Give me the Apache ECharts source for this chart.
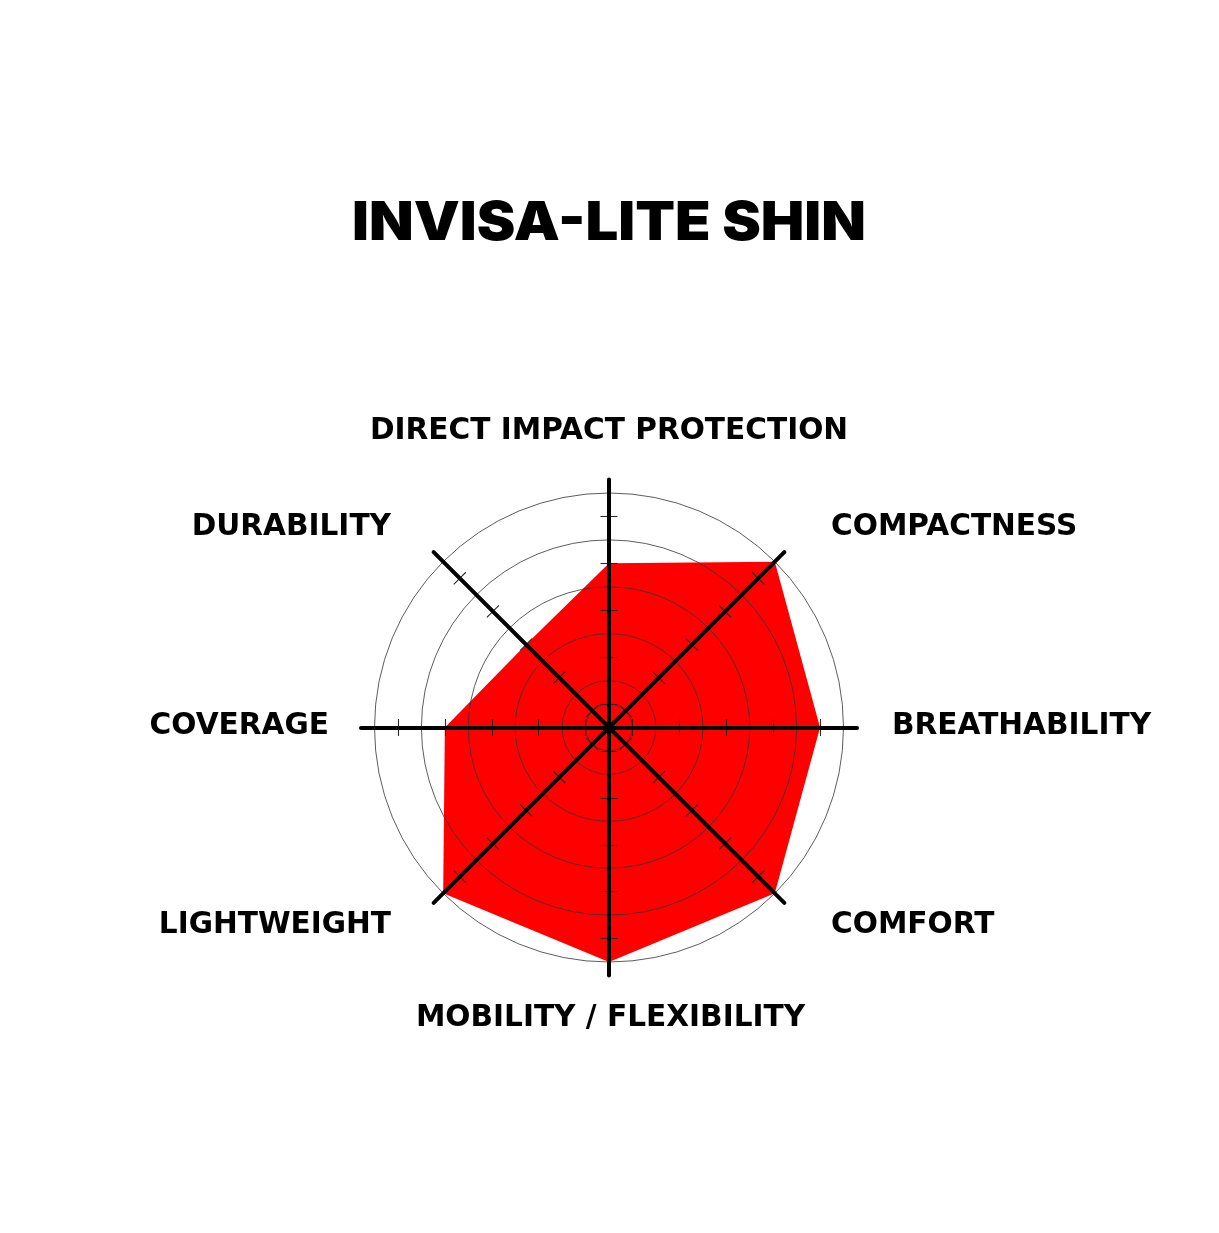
<!DOCTYPE html>
<html>
<head>
<meta charset="utf-8">
<script src="https://cdn.jsdelivr.net/npm/echarts@6/dist/echarts.min.js"></script>
<style>
  html, body { margin: 0; padding: 0; background: #ffffff; }
  #chart { width: 1219px; height: 1233px; }
</style>
</head>
<body>
<div id="chart"></div>
<script>
// Data (clockwise from top)
const titleText = 'INVISA-LITE SHIN';
const categories = ['DIRECT IMPACT PROTECTION', 'COMPACTNESS', 'BREATHABILITY', 'COMFORT',
  'MOBILITY / FLEXIBILITY', 'LIGHTWEIGHT', 'COVERAGE', 'DURABILITY'];
const values = [7, 10, 9, 10, 10, 10, 7, 5];
const maxValue = 10;
const ringLevels = 5;            // split circles at 2,4,6,8,10
const tickFractions = [0.1, 0.3, 0.5, 0.7, 0.9];

// Layout
const CX = 609, CY = 727.5, R = 234.5, AXIS_R = 248;
const labelLayout = [
  { x: 609, y: 431, align: 'center' },
  { x: 831, y: 527, align: 'left' },
  { x: 892, y: 726, align: 'left' },
  { x: 831, y: 925, align: 'left' },
  { x: 610.5, y: 1018, align: 'center' },
  { x: 391, y: 925, align: 'right' },
  { x: 329, y: 726, align: 'right' },
  { x: 391, y: 527, align: 'right' }
];

// ECharts radar places indicators counter-clockwise from the top
const ccw = arr => [arr[0]].concat(arr.slice(1).reverse());
const indicator = ccw(categories).map(n => ({ name: n, max: maxValue, min: 0 }));

const hidden = {
  axisName: { show: false },
  axisLine: { show: false },
  axisTick: { show: false },
  axisLabel: { show: false },
  splitLine: { show: false },
  splitArea: { show: false }
};

const radars = [];
// 0: main radar with rings
radars.push(Object.assign({}, hidden, {
  center: [CX, CY], radius: R, startAngle: 90, splitNumber: ringLevels, shape: 'circle',
  indicator: indicator, z: 3,
  splitLine: { show: true, lineStyle: { color: '#333333', width: 0.8 } }
}));
// 1: long axis spokes
radars.push(Object.assign({}, hidden, {
  center: [CX, CY], radius: AXIS_R, startAngle: 90, splitNumber: 1, shape: 'circle',
  indicator: indicator, z: 5,
  axisLine: { show: true, lineStyle: { color: '#000000', width: 4 } }
}));
// 2: small inner ring
radars.push(Object.assign({}, hidden, {
  center: [CX, CY], radius: R * tickFractions[0], startAngle: 90, splitNumber: 1, shape: 'circle',
  indicator: indicator, z: 3,
  splitLine: { show: true, lineStyle: { color: '#333333', width: 0.8 } }
}));
// tick radars (both sides of each spoke)
tickFractions.forEach(f => {
  [8.5, -8.5].forEach(len => {
    radars.push(Object.assign({}, hidden, {
      center: [CX, CY], radius: R * f, startAngle: 90, splitNumber: 1, shape: 'circle',
      indicator: indicator, z: 4,
      axisTick: { show: true, length: len, lineStyle: { color: '#2a2a2a', width: 1.1 } }
    }));
  });
});

const labelFont = '"DejaVu Sans", sans-serif';
const graphics = categories.map((name, i) => ({
  type: 'text',
  x: labelLayout[i].x,
  y: labelLayout[i].y,
  z: 10,
  style: {
    text: name,
    fill: '#000000',
    font: 'bold 29.6px ' + labelFont,
    textAlign: labelLayout[i].align,
    textVerticalAlign: 'middle'
  }
}));
graphics.push({
  type: 'text',
  x: 609,
  y: 223.5,
  scaleX: 1.075,
  z: 10,
  style: {
    text: titleText,
    fill: '#000000',
    font: '900 54px Inter, "DejaVu Sans", sans-serif',
    textAlign: 'center',
    textVerticalAlign: 'middle'
  }
});

const chart = echarts.init(document.getElementById('chart'), null, { renderer: 'canvas' });
chart.setOption({
  backgroundColor: '#ffffff',
  animation: false,
  radar: radars,
  graphic: graphics,
  series: [{
    type: 'radar',
    radarIndex: 0,
    z: 1,
    symbol: 'none',
    lineStyle: { width: 0 },
    areaStyle: { color: '#ff0000', opacity: 1 },
    data: [{ value: ccw(values), name: titleText }]
  }]
});
</script>
</body>
</html>
